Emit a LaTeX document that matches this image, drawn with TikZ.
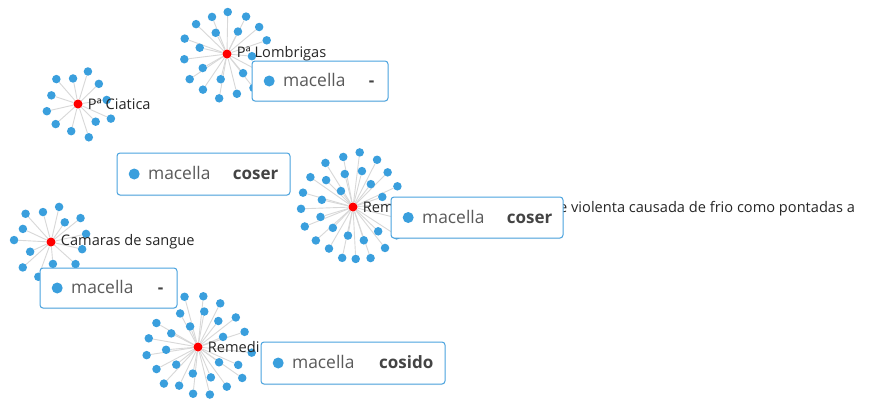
\documentclass[tikz,border=0pt]{standalone}
\usepackage{fontspec}
\setmainfont{Open Sans}
\usetikzlibrary{positioning, backgrounds, shadows}
\definecolor{leafblue}{HTML}{3A9FDD}
\definecolor{hubred}{HTML}{FF0000}
\definecolor{spokegray}{HTML}{D8D8D8}
\definecolor{tipline}{HTML}{4AA3DF}
\definecolor{keygray}{HTML}{5A5A5A}
\definecolor{valgray}{HTML}{444444}

\begin{document}
\begin{tikzpicture}[
    x=1pt, y=1pt,
    hub/.style={circle, fill=hubred, minimum size=9pt, inner sep=0pt},
    leaf/.style={circle, fill=leafblue, minimum size=8.5pt, inner sep=0pt},
    spoke/.style={draw=spokegray, line width=0.9pt},
    hublabel/.style={anchor=west, inner sep=0pt, font=\fontsize{14.6}{14.6}\selectfont, text=black!85},
    tipbox/.style={draw=tipline, fill=white, rounded corners=3pt, line width=1pt,
        drop shadow={shadow xshift=0pt, shadow yshift=-1pt, opacity=0.12}},
    tipdot/.style={circle, fill=leafblue, minimum size=11pt, inner sep=0pt},
    tipkey/.style={inner sep=0pt, text height=12pt, text depth=1pt, font=\fontsize{17.4}{17.4}\selectfont, text=keygray},
    tipval/.style={inner sep=0pt, text height=12pt, text depth=1pt, font=\fontsize{17}{17}\selectfont\bfseries, text=valgray}
]
\useasboundingbox (0,0) rectangle (870,-399);
\begin{pgfonlayer}{background}
\fill[white] (0,0) rectangle (870,-399);
\end{pgfonlayer}

\node[hub] (lom) at (227,-54) {};
\node[hub] (cia) at (78,-104) {};
\node[hub] (rem) at (353,-207) {};
\node[hub] (cam) at (51,-242) {};
\node[hub] (med) at (198,-347) {};

\foreach \a/\r [count=\i] in {19/42, 40/42, 63/42, 89/42, 112/40, 136/43, 160/45, 187/43, 214/45,
    236/43, 260/45, 284/41, 308/43, 332/43, 64/25, 118/24, 167/28, 210/28, 256/26, 310/25, 355/25} {
  \node[leaf] (lom-\i) at ([shift={(\a:\r)}]lom.center) {};
  \begin{pgfonlayer}{background}
  \draw[spoke] (lom) -- (lom-\i);
  \end{pgfonlayer}
}
\foreach \a/\r [count=\i] in {8/29, 44/29, 73/34, 101/26, 131/33, 162/28, 193/32, 222/30,
    256/28, 288/35, 315/25, 336/36} {
  \node[leaf] (cia-\i) at ([shift={(\a:\r)}]cia.center) {};
  \begin{pgfonlayer}{background}
  \draw[spoke] (cia) -- (cia-\i);
  \end{pgfonlayer}
}
\foreach \a/\r [count=\i] in {5/52, 25/49, 45/49, 63/53, 83/55, 101/51, 122/52, 145/52, 164/52,
    182/52, 202/52, 222/50, 240/48, 258/52, 273/52, 289/54, 308/52, 327/52, 346/52,
    19/31, 52/29, 76/37, 104/34, 127/20, 135/38, 167/32, 197/34, 226/29, 260/29, 288/35, 316/35} {
  \node[leaf] (rem-\i) at ([shift={(\a:\r)}]rem.center) {};
  \begin{pgfonlayer}{background}
  \draw[spoke] (rem) -- (rem-\i);
  \end{pgfonlayer}
}
\foreach \a/\r [count=\i] in {13/36, 39/38, 55/24, 77/36, 105/31, 132/38, 155/31, 177/37,
    205/23, 222/38, 250/37, 275/22, 318/33, 347/32} {
  \node[leaf] (cam-\i) at ([shift={(\a:\r)}]cam.center) {};
  \begin{pgfonlayer}{background}
  \draw[spoke] (cam) -- (cam-\i);
  \end{pgfonlayer}
}
\foreach \a/\r [count=\i] in {18/49, 22/27, 38/48, 52/33, 63/49, 80/36, 84/51, 105/52, 111/22,
    118/38, 150/48, 153/30, 170/50, 185/32, 189/52, 208/47, 219/28, 227/50, 244/43, 259/27,
    264/47, 284/49, 293/33, 306/49, 324/26, 325/54, 336/44, 354/54} {
  \node[leaf] (med-\i) at ([shift={(\a:\r)}]med.center) {};
  \begin{pgfonlayer}{background}
  \draw[spoke] (med) -- (med-\i);
  \end{pgfonlayer}
}

\node[hublabel, right=5pt of lom] (lomlabel) {Pª Lombrigas};
\node[hublabel, right=5pt of cia] (cialabel) {Pª Ciatica};
\node[hublabel, right=5pt of rem] (remlabel) {Rem};
\node[hublabel] (remtail) at (559,-209) {e violenta causada de frio como pontadas a};
\node[hublabel, right=5pt of cam] (camlabel) {Camaras de sangue};
\node[hublabel, right=5pt of med] (medlabel) {Remedi};

\node[tipbox, minimum width=136pt, minimum height=40pt] (lomtip) at (320,-81) {};
\node[tipdot, right=12pt of lomtip.west] (lomtipdot) {};
\node[tipkey, right=8pt of lomtipdot] (lomtipkey) {macella};
\node[tipval, left=14pt of lomtip.east] (lomtipval) {-};

\node[tipbox, minimum width=173pt, minimum height=42pt] (ciatip) at (203.5,-174) {};
\node[tipdot, right=12pt of ciatip.west] (ciatipdot) {};
\node[tipkey, right=8pt of ciatipdot] (ciatipkey) {macella};
\node[tipval, left=12pt of ciatip.east] (ciatipval) {coser};

\node[tipbox, minimum width=172pt, minimum height=41pt] (remtip) at (477,-217.5) {};
\node[tipdot, right=12pt of remtip.west] (remtipdot) {};
\node[tipkey, right=8pt of remtipdot] (remtipkey) {macella};
\node[tipval, left=11pt of remtip.east] (remtipval) {coser};

\node[tipbox, minimum width=137pt, minimum height=40pt] (camtip) at (108.5,-288) {};
\node[tipdot, right=12pt of camtip.west] (camtipdot) {};
\node[tipkey, right=8pt of camtipdot] (camtipkey) {macella};
\node[tipval, left=14pt of camtip.east] (camtipval) {-};

\node[tipbox, minimum width=184pt, minimum height=42pt] (medtip) at (353,-363) {};
\node[tipdot, right=12pt of medtip.west] (medtipdot) {};
\node[tipkey, right=8pt of medtipdot] (medtipkey) {macella};
\node[tipval, left=12pt of medtip.east] (medtipval) {cosido};
\end{tikzpicture}
\end{document}
